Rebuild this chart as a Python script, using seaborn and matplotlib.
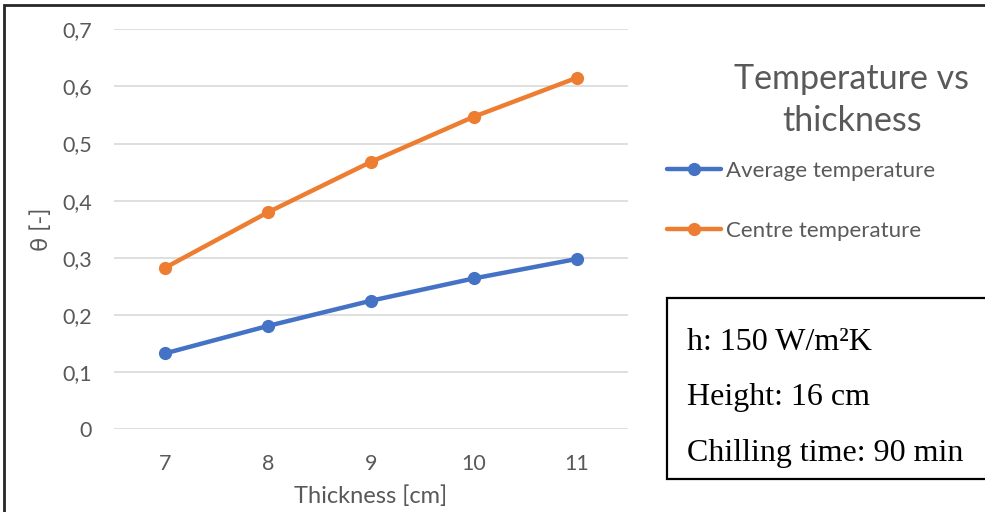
import matplotlib
matplotlib.use("Agg")
import matplotlib.pyplot as plt
import matplotlib.patches as mpatches
import pandas as pd
import seaborn as sns

# Data
thickness = [7, 8, 9, 10, 11]
average_temperature = [0.133, 0.181, 0.225, 0.264, 0.298]
centre_temperature = [0.283, 0.380, 0.468, 0.547, 0.615]
series_names = ["Average temperature", "Centre temperature"]
y_ticks = [0, 0.1, 0.2, 0.3, 0.4, 0.5, 0.6, 0.7]
y_tick_labels = ["0", "0,1", "0,2", "0,3", "0,4", "0,5", "0,6", "0,7"]
chart_title = "Temperature vs\nthickness"
info_lines = ["h: 150 W/m\u00b2K", "Height: 16 cm", "Chilling time: 90 min"]

df = pd.DataFrame({
    "Thickness": thickness * 2,
    "theta": average_temperature + centre_temperature,
    "Series": [series_names[0]] * len(thickness) + [series_names[1]] * len(thickness),
})

sns.set_theme(style="white")
plt.rcParams["font.family"] = ["Lato", "DejaVu Sans"]

W, H = 985, 512
fig = plt.figure(figsize=(W / 100, H / 100), dpi=100)
fig.patch.set_facecolor("white")

left, right = 114 / W, 628 / W
bottom, top = 1 - 429.3 / H, 1 - 29.3 / H
ax = fig.add_axes([left, bottom, right - left, top - bottom])

palette = {series_names[0]: "#4472C4", series_names[1]: "#ED7D31"}
sns.lineplot(data=df, x="Thickness", y="theta", hue="Series", palette=palette,
             marker="o", markersize=9.5, markeredgewidth=0, linewidth=3.2,
             ax=ax, legend=True)

ax.set_xlim(6.5, 11.5)
ax.set_ylim(0, 0.7)
ax.set_xticks(thickness)
ax.set_xticklabels([str(t) for t in thickness])
ax.set_yticks(y_ticks)
ax.set_yticklabels(y_tick_labels)
ax.tick_params(axis="both", length=0, labelsize=15.5, labelcolor="#595959")
ax.tick_params(axis="x", pad=18)
ax.tick_params(axis="y", pad=16)
ax.yaxis.grid(True, color="#D9D9D9", linewidth=1.2)
ax.xaxis.grid(False)
ax.set_axisbelow(True)
for s in ax.spines.values():
    s.set_visible(False)

ax.set_xlabel("Thickness [cm]", fontsize=17, color="#595959", labelpad=8)
ax.set_ylabel("\u03b8 [-]", fontsize=17, color="#595959", labelpad=7)

# Legend to the right of the plot area
handles, labels = ax.get_legend_handles_labels()
ax.legend(handles, labels, loc="upper left",
          bbox_to_anchor=(667 / W, 1 - 161 / H), bbox_transform=fig.transFigure,
          frameon=False, fontsize=16, labelcolor="#595959",
          handlelength=2.45, handletextpad=0.22, labelspacing=1.8,
          borderaxespad=0, borderpad=0)

# Chart title
fig.text(852 / W, 1 - 100 / H, chart_title, ha="center", va="center",
         fontsize=24.5, color="#595959", linespacing=1.42)

# Parameter box
box = mpatches.Rectangle((667 / W, 1 - 479 / H), 330 / W, 181 / H,
                         transform=fig.transFigure, facecolor="white",
                         edgecolor="black", linewidth=1.6, clip_on=False)
fig.add_artist(box)
for i, line in enumerate(info_lines):
    fig.text(687 / W, 1 - (343 + 55 * i) / H, line, ha="left", va="center",
             fontsize=23, color="black", family=["Liberation Serif", "DejaVu Serif"])

# Outer chart frame
frame = mpatches.Rectangle((4 / W, -0.1), 1.2, (1 - 5 / H) + 0.1,
                           transform=fig.transFigure, facecolor="none",
                           edgecolor="#262626", linewidth=2.0, clip_on=False)
fig.add_artist(frame)

fig.savefig("out.png", dpi=100)
